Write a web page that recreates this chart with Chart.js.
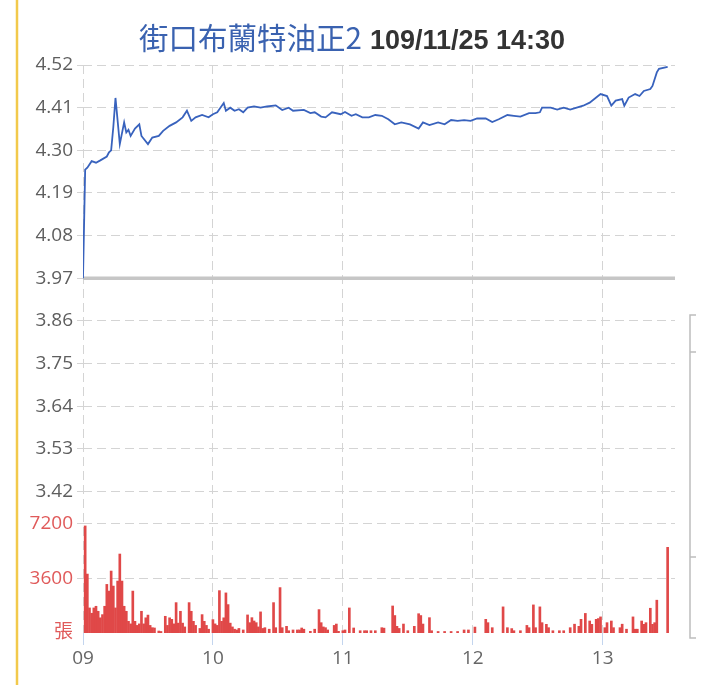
<!DOCTYPE html>
<html>
<head>
<meta charset="utf-8">
<script src="https://cdn.jsdelivr.net/npm/chart.js@4"></script>
<style>
  html, body { margin: 0; padding: 0; background: #fff; }
  #wrap  { position: relative; width: 720px; height: 691px; }
  #title { position: absolute; left: 139px; top: 17px; white-space: nowrap; line-height: 38px; }
  #title .name { font-family: 'Noto Sans CJK TC', sans-serif; font-size: 29.5px; color: #3a62b0; }
  #title .time { font-family: 'Liberation Sans', Arial, sans-serif; font-weight: bold; font-size: 27px; color: #333; margin-left: 8px; }
</style>
</head>
<body>
<div id="wrap">
  <canvas id="c"></canvas>
  <div id="title"><span class="name">街口布蘭特油正2</span><span class="time">109/11/25 14:30</span></div>
</div>
<script>
// ── Data (x values are minutes after 09:00) ───────────────────────────────────
const hourLabels = ['09', '10', '11', '12', '13'];
const priceTicks = [4.52, 4.41, 4.30, 4.19, 4.08, 3.97, 3.86, 3.75, 3.64, 3.53, 3.42];
const volTicks   = [0, 3600, 7200];
const refPrice   = 3.97;

const priceMin = [0, 1, 2, 4, 6, 8, 11, 12, 13, 14, 15, 17, 19, 20, 21, 22, 24, 26, 27, 30,
  32, 35, 37, 40, 43, 46, 48, 50, 52, 55, 58, 60, 62, 65, 66, 68, 70, 72, 74, 76,
  79, 82, 85, 89, 92, 95, 97, 102, 105, 107, 110, 112, 115, 119, 121, 124, 126, 129, 132, 135,
  138, 141, 144, 147, 151, 155, 157, 160, 164, 167, 170, 173, 176, 179, 182, 186, 189, 192, 196, 199,
  202, 206, 209, 211, 212, 216, 219, 222, 225, 228, 231, 234, 237, 239, 242, 244, 246, 249, 250, 252,
  255, 257, 259, 262, 263, 265, 266, 270];
const prices = [3.97, 4.25, 4.255, 4.272, 4.268, 4.274, 4.284, 4.295, 4.30, 4.36, 4.435, 4.316, 4.372, 4.346, 4.353, 4.337, 4.356, 4.367, 4.337, 4.316,
  4.333, 4.337, 4.35, 4.363, 4.372, 4.385, 4.402, 4.376, 4.385, 4.391, 4.385, 4.393, 4.398, 4.422, 4.402, 4.41, 4.402, 4.406, 4.398, 4.41,
  4.413, 4.41, 4.413, 4.416, 4.404, 4.41, 4.402, 4.404, 4.396, 4.398, 4.387, 4.385, 4.398, 4.393, 4.399, 4.389, 4.393, 4.385, 4.385, 4.391,
  4.389, 4.38, 4.367, 4.372, 4.367, 4.356, 4.372, 4.365, 4.372, 4.367, 4.378, 4.376, 4.378, 4.376, 4.382, 4.382, 4.373, 4.38, 4.391, 4.389,
  4.387, 4.396, 4.396, 4.398, 4.41, 4.41, 4.405, 4.41, 4.405, 4.41, 4.415, 4.423, 4.436, 4.445, 4.44, 4.415, 4.428, 4.432, 4.415, 4.436,
  4.445, 4.44, 4.453, 4.458, 4.466, 4.501, 4.51, 4.515];

const volMin = [1, 2, 3, 4, 5, 6, 7, 8, 9, 10, 11, 12, 13, 14, 15, 16, 17, 18, 19, 20,
  21, 22, 23, 24, 25, 26, 27, 28, 29, 30, 31, 32, 33, 35, 36, 38, 39, 40, 41, 42,
  43, 44, 45, 46, 47, 49, 50, 51, 52, 54, 55, 56, 57, 58, 60, 61, 62, 63, 64, 65,
  66, 67, 68, 69, 70, 71, 72, 74, 76, 77, 78, 79, 80, 81, 82, 83, 84, 86, 88, 89,
  91, 92, 94, 95, 97, 99, 100, 101, 102, 105, 107, 109, 110, 111, 112, 113, 116, 117, 118, 120,
  121, 123, 125, 128, 130, 131, 133, 135, 138, 139, 143, 144, 145, 146, 148, 150, 153, 155, 156, 157,
  160, 161, 164, 167, 170, 173, 176, 178, 181, 186, 187, 189, 194, 196, 198, 199, 202, 205, 206, 208,
  209, 211, 212, 214, 215, 217, 220, 222, 225, 227, 229, 230, 232, 234, 235, 237, 238, 239, 241, 242,
  244, 245, 248, 249, 251, 254, 255, 256, 258, 259, 260, 262, 263, 264, 265, 270];
const volumes = [7050, 3880, 1650, 1300, 1650, 1760, 1430, 1000, 1210, 1760, 3200, 2760, 4080, 3090, 1650, 3420, 5200, 3420, 1760, 1430,
  770, 600, 2760, 770, 500, 600, 1430, 600, 1000, 1180, 500, 350, 330, 130, 100, 1100, 500, 1000, 900, 600,
  2000, 650, 1430, 650, 400, 2000, 1430, 770, 500, 300, 1210, 770, 500, 250, 880, 600, 500, 2790, 770, 1000,
  2640, 1870, 650, 400, 250, 200, 300, 200, 1190, 680, 1010, 790, 680, 400, 1390, 300, 350, 250, 2000, 350,
  2990, 350, 440, 150, 200, 200, 200, 330, 250, 110, 250, 1540, 680, 400, 350, 200, 500, 590, 110, 150,
  200, 1650, 330, 150, 150, 150, 150, 150, 350, 320, 1780, 1150, 440, 300, 590, 150, 440, 1270, 1150, 590,
  1010, 150, 100, 100, 100, 100, 200, 200, 390, 900, 680, 350, 1720, 350, 290, 150, 150, 500, 350, 1850,
  350, 1720, 680, 570, 350, 150, 150, 150, 350, 580, 440, 900, 1290, 790, 570, 900, 950, 1060, 350, 680,
  790, 350, 350, 580, 250, 1060, 250, 250, 790, 570, 680, 1630, 570, 680, 2160, 5640];

// ── Price and volume share the plot height ────────────────────────────────────
const P_TOP = 4.52, P_BOTTOM = 3.055;
const V_TOP = 37400;
const X_END = 273.4;

const GRID  = '#d4d4d4';
const DASH  = [9, 5];
const FONT  = "'Open Sans', 'Noto Sans CJK TC', sans-serif";

function volToPrice(v) { return P_BOTTOM + v / V_TOP * (P_TOP - P_BOTTOM); }

// yellow edge on the left, bracket on the right
const frame = {
  id: 'frame',
  afterDraw(chart) {
    const ctx = chart.ctx;
    ctx.save();
    ctx.strokeStyle = '#f2c94c'; ctx.lineWidth = 2.5;
    ctx.beginPath(); ctx.moveTo(17, 0); ctx.lineTo(17, 685); ctx.stroke();
    ctx.strokeStyle = '#bdbdbd'; ctx.lineWidth = 1.5;
    ctx.beginPath();
    ctx.moveTo(696, 315); ctx.lineTo(690, 315); ctx.lineTo(690, 638); ctx.lineTo(696, 638);
    ctx.moveTo(690, 352); ctx.lineTo(696, 352);
    ctx.moveTo(690, 557); ctx.lineTo(696, 557);
    ctx.stroke();
    ctx.restore();
  }
};

new Chart(document.getElementById('c'), {
  type: 'line',
  data: {
    datasets: [
      { type: 'line', yAxisID: 'y', order: 0,
        data: priceMin.map((m, i) => ({ x: m, y: prices[i] })),
        borderColor: '#3862bd', borderWidth: 1.8, pointRadius: 0 },
      { type: 'bar', yAxisID: 'yv', order: 1,
        data: volMin.map((m, i) => ({ x: m, y: volumes[i] })),
        backgroundColor: '#e04848', barThickness: 2 },
      { type: 'line', yAxisID: 'y', order: 2,
        data: [{ x: 0, y: refPrice }, { x: X_END, y: refPrice }],
        borderColor: '#c6c6c6', borderWidth: 3.5, pointRadius: 0 }
    ]
  },
  options: {
    responsive: true, maintainAspectRatio: false, animation: false,
    layout: { padding: { left: 20, right: 45, top: 65, bottom: 18 } },
    plugins: { legend: { display: false }, tooltip: { enabled: false } },
    scales: {
      x: {
        type: 'linear', min: 0, max: X_END, offset: false,
        afterFit: s => { s.height = 40; },
        ticks: { stepSize: 60, includeBounds: false, autoSkip: false, maxRotation: 0, padding: 2, color: '#666',
                 font: { family: FONT, size: 19 }, callback: v => hourLabels[Math.round(v / 60)] },
        grid: { offset: false, color: GRID, tickColor: '#c3d5ee', tickLength: 12 },
        border: { display: false, dash: DASH }
      },
      y: {
        position: 'left', min: P_BOTTOM, max: P_TOP,
        afterBuildTicks: s => {
          s.ticks = priceTicks.map(v => ({ value: v }))
            .concat(volTicks.map(v => ({ value: volToPrice(v), vol: v })));
        },
        afterFit: s => { s.width = 63; },
        ticks: {
          autoSkip: false, padding: 4, font: { family: FONT, size: 19 },
          color: c => (c.tick && c.tick.vol !== undefined) ? '#e05a5a' : '#5e5e5e',
          callback: (v, i, t) => t[i].vol !== undefined ? (t[i].vol ? String(t[i].vol) : '張') : v.toFixed(2)
        },
        grid: { color: c => (c.tick && c.tick.vol === 0) ? 'rgba(0,0,0,0)' : GRID, tickLength: 6 },
        border: { display: false, dash: DASH }
      },
      yv: { display: false, min: 0, max: V_TOP }
    }
  },
  plugins: [frame]
});
</script>
</body>
</html>
